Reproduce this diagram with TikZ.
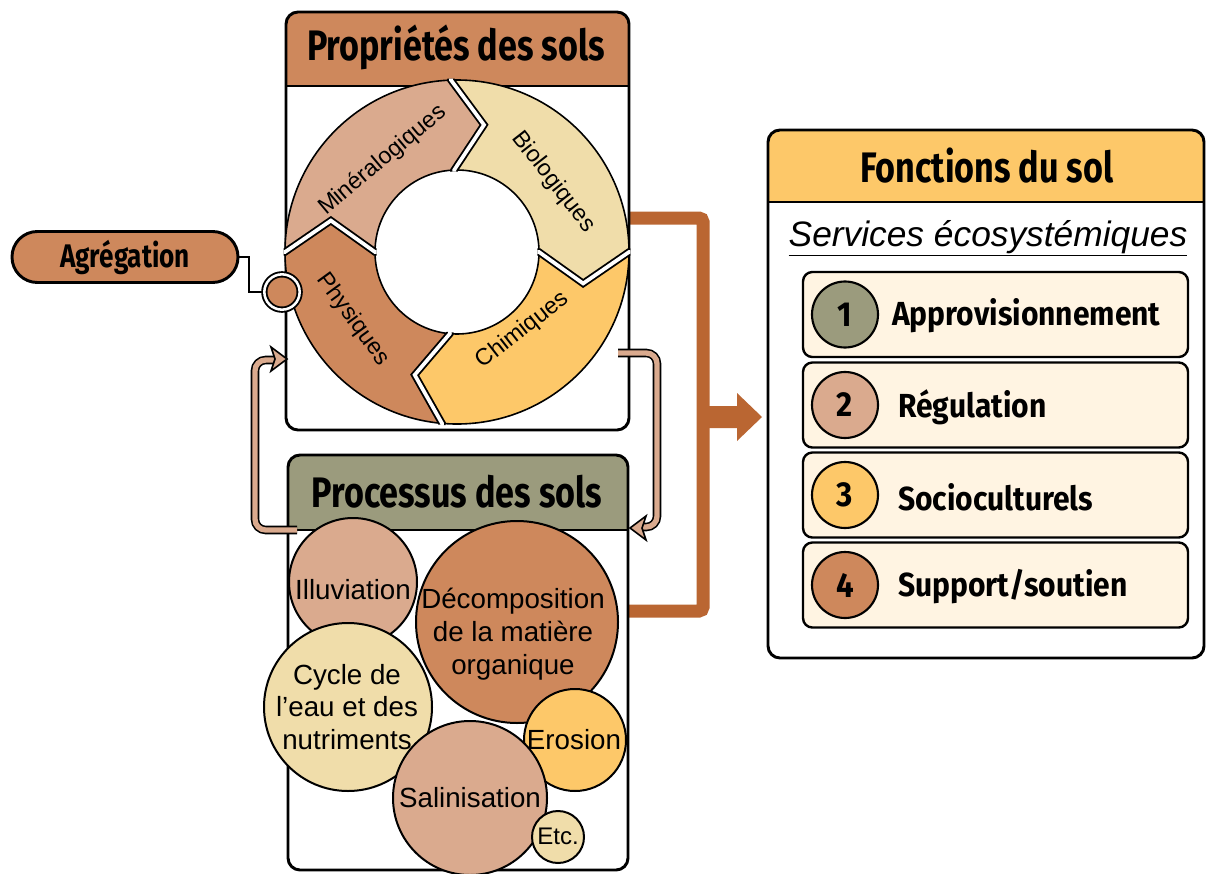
\documentclass[tikz,border=0pt]{standalone}
\usepackage{fontspec}
\setmainfont{Liberation Sans}
\newfontfamily\tfont[FakeStretch=0.8]{Fira Sans}
\newfontfamily\ifont[FakeStretch=0.9]{Fira Sans}
\usetikzlibrary{calc}
\definecolor{brD}{RGB}{206,136,92}
\definecolor{brL}{RGB}{218,170,142}
\definecolor{crm}{RGB}{240,221,170}
\definecolor{yel}{RGB}{253,200,105}
\definecolor{olv}{RGB}{155,155,125}
\definecolor{arr}{RGB}{186,102,50}
\definecolor{itm}{RGB}{255,244,226}
\newcommand\ringseg[3]{%
  \pgfmathsetmacro\ta{#2-14}\pgfmathsetmacro\tb{#3-14}%
  \fill[#1] (#2:172) arc[start angle=#2, end angle=#3, radius=172] -- (\tb:130) -- (#3:82)
    arc[start angle=#3, end angle=#2, radius=82] -- (\ta:130) -- cycle;}
\newcommand\ringcut[1]{%
  \pgfmathsetmacro\tc{#1-14}%
  \draw[black, line width=5.6pt, line join=miter] (#1:190) -- (#1:172) -- (\tc:130) -- (#1:82) -- (#1:65);
  \draw[white, line width=2.8pt, line join=miter] (#1:190) -- (#1:172) -- (\tc:130) -- (#1:82) -- (#1:65);}
\begin{document}
\begin{tikzpicture}[x=0.75pt,y=-0.75pt,
  frame/.style={draw=black, line width=2.2pt, rounded corners=9pt},
  ttl/.style={font=\tfont\bfseries\fontsize{32pt}{36pt}\selectfont, inner sep=0},
  itxt/.style={font=\ifont\bfseries\fontsize{25pt}{30pt}\selectfont, inner sep=0, anchor=west},
  ctxt/.style={font=\fontsize{20.8pt}{24.5pt}\selectfont, align=center, inner sep=0},
  rtxt/.style={font=\fontsize{17.5pt}{21pt}\selectfont, inner sep=0},
  bub/.style={circle, draw=black, line width=1.5pt, inner sep=0},
  fb/.style={draw=black, line width=1.2pt, double=brL, double distance=4pt, rounded corners=8pt},
  fbhead/.style={fill=brL, draw=black, line width=1.2pt, line join=miter},
  item/.style={draw=black, fill=itm, line width=1.8pt, rounded corners=7pt, minimum width=288.75pt, minimum height=63.75pt, inner sep=0},
  num/.style={circle, draw=black, line width=1.6pt, minimum size=49.5pt, inner sep=0, font=\ifont\bfseries\fontsize{26pt}{30pt}\selectfont}
]
\useasboundingbox (0,0) rectangle (1206,874);
\fill[white] (0,0) rectangle (1206,874);

% named corners
\coordinate (pNW) at (286,12); \coordinate (pSE) at (629,430);
\coordinate (qNW) at (288,455); \coordinate (qSE) at (628,870);
\coordinate (fNW) at (768,130); \coordinate (fSE) at (1204,658);

% big brown connector
\coordinate (bA) at (629,218); \coordinate (bB) at (628,611);
\coordinate (bM) at (703,417); \coordinate (bT) at (762,417);
\draw[arr, line width=9.75pt, rounded corners=3pt] (bA) -- (703,218) -- (703,611) -- (bB);
\fill[arr] ($(bM)+(0,-11)$) -- ($(bT)+(-25,-11)$) -- ($(bT)+(-25,-24)$) -- (bT) -- ($(bT)+(-25,24)$) -- ($(bT)+(-25,11)$) -- ($(bM)+(0,11)$) -- cycle;

% Proprietes box
\fill[white, rounded corners=9pt] (pNW) rectangle (pSE);
\begin{scope}
  \clip[rounded corners=9pt] (pNW) rectangle (pSE);
  \fill[brD] (pNW) rectangle (629,86);
\end{scope}
\draw[line width=2.2pt] (286,86) -- (629,86);
\draw[frame] (pNW) rectangle (pSE);
\node[ttl] (tprop) at (456,47) {Propriétés des sols};

% Processus box
\fill[white, rounded corners=9pt] (qNW) rectangle (qSE);
\begin{scope}
  \clip[rounded corners=9pt] (qNW) rectangle (qSE);
  \fill[olv] (qNW) rectangle (628,530);
\end{scope}
\draw[line width=2.2pt] (288,530) -- (628,530);
\draw[frame] (qNW) rectangle (qSE);
\node[ttl] (tproc) at (457,492) {Processus des sols};

% ring
\begin{scope}[shift={(457,252)}, yscale=-1]
  \ringseg{brD}{265}{180}
  \ringseg{brL}{180}{92}
  \ringseg{crm}{92}{0}
  \ringseg{yel}{0}{-95}
  \draw[line width=1.2pt] (0,0) circle[radius=172] (0,0) circle[radius=82];
  \begin{scope}[even odd rule]
    \clip (0,0) circle[radius=173.5] (0,0) circle[radius=80.5];
    \ringcut{180}\ringcut{92}\ringcut{0}\ringcut{-95}
  \end{scope}
  \node[rtxt, rotate=40] (rmin) at (129:118) {Minéralogiques};
  \node[rtxt, rotate=-52] (rbio) at (36:119) {Biologiques};
  \node[rtxt, rotate=38] (rchi) at (-50:102) {Chimiques};
  \node[rtxt, rotate=-54] (rphy) at (-147:124) {Physiques};
\end{scope}

% Agregation
\node[draw=black, fill=brD, line width=2.2pt, rounded corners=19pt, minimum width=169.5pt, minimum height=38.25pt, inner sep=0,
  font=\tfont\bfseries\fontsize{24.5pt}{28pt}\selectfont] (agr) at (125,257) {Agrégation};
\node[circle, fill=brD, draw=black, line width=1.4pt, double=white, double distance=1.9pt, minimum size=26.5pt, inner sep=0] (agrc) at (282,292) {};
\draw[line width=1.5pt] (agr.east) -- ++(10,0) |- (agrc.west);

% feedback arrows
\coordinate (l0) at (297,530); \coordinate (l1) at (274,360); \coordinate (lt) at (287,359);
\draw[fb] (l0) -- (255,530) -- (255,360) -- (l1);
\filldraw[fbhead] ($(lt)+(-16,-12)$) -- (lt) -- ($(lt)+(-16,12)$) -- ($(lt)+(-12,0)$) -- cycle;
\coordinate (r0) at (618,353); \coordinate (r1) at (642,527); \coordinate (rt) at (630,528);
\draw[fb] (r0) -- (657,353) -- (657,527) -- (r1);
\filldraw[fbhead] ($(rt)+(16,-12)$) -- (rt) -- ($(rt)+(16,12)$) -- ($(rt)+(12,0)$) -- cycle;

% bubbles
\node[bub, fill=brL, minimum size=96pt] (ill) at (353,582) {};
\node[bub, fill=brD, minimum size=151.5pt] (dec) at (517,622) {};
\node[bub, fill=crm, minimum size=126pt] (cyc) at (348,707) {};
\node[bub, fill=yel, minimum size=76.5pt] (ero) at (575,740) {};
\node[bub, fill=brL, minimum size=115.5pt] (sal) at (470,798) {};
\node[bub, fill=crm, minimum size=39pt] (etc) at (558,837) {};
\node[ctxt] at (353,590) {Illuviation};
\node[ctxt] at (513,634) {Décomposition\\de la matière\\organique};
\node[ctxt] at (347,707) {Cycle de\\l’eau et des\\nutriments};
\node[ctxt] at (574,740) {Erosion};
\node[ctxt] at (470,798) {Salinisation};
\node[ctxt, font=\fontsize{18pt}{20pt}\selectfont] at (558,836) {Etc.};

% Fonctions box
\fill[white, rounded corners=9pt] (fNW) rectangle (fSE);
\begin{scope}
  \clip[rounded corners=9pt] (fNW) rectangle (fSE);
  \fill[yel] (fNW) rectangle (1204,202);
\end{scope}
\draw[line width=2.2pt] (768,202) -- (1204,202);
\draw[frame] (fNW) rectangle (fSE);
\node[ttl] (tfon) at (987,166) {Fonctions du sol};
\node[font=\itshape\fontsize{26.5pt}{30pt}\selectfont, inner sep=0] (serv) at (988,238) {\underline{Services écosystémiques}};

\node[item] (i1) at (995.5,314.5) {};
\node[item] (i2) at (995.5,405) {};
\node[item] (i3) at (995.5,495) {};
\node[item] (i4) at (995.5,585) {};
\node[num, fill=olv] (n1) at (845,314.5) {1};
\node[num, fill=brL] (n2) at (845,405) {2};
\node[num, fill=yel] (n3) at (845,495) {3};
\node[num, fill=brD] (n4) at (845,585) {4};
\node[itxt] at (892,316) {Approvisionnement};
\node[itxt] at (898,407) {Régulation};
\node[itxt] at (898,497) {Socioculturels};
\node[itxt] at (898,587) {Support/soutien};
\end{tikzpicture}
\end{document}
